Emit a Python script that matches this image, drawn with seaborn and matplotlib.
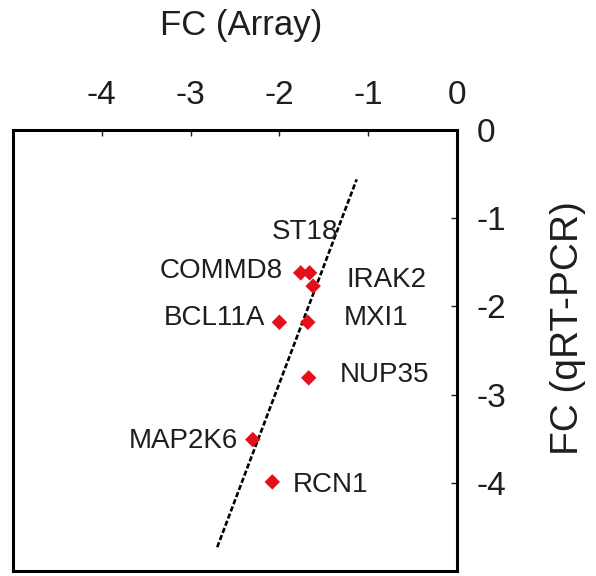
import matplotlib
matplotlib.use("Agg")
import matplotlib.pyplot as plt
import seaborn as sns
import pandas as pd

# Data
genes = ["COMMD8", "ST18", "IRAK2", "BCL11A", "MXI1", "NUP35", "MAP2K6", "RCN1"]
fc_array = [-1.76, -1.66, -1.62, -2.00, -1.68, -1.67, -2.30, -2.08]
fc_qpcr = [-1.62, -1.62, -1.77, -2.18, -2.18, -2.81, -3.51, -3.99]
fit_x = [-2.70, -1.13]
fit_y = [-4.73, -0.56]
tick_vals = [-4, -3, -2, -1, 0]
tick_labels = ["-4", "-3", "-2", "-1", "0"]

# label placement (data coords) and alignment
lab_x = [-1.96, -1.34, -1.24, -2.16, -1.28, -1.32, -2.47, -1.85]
lab_y = [-1.60, -1.16, -1.70, -2.13, -2.13, -2.78, -3.53, -4.02]
lab_ha = ["right", "right", "left", "right", "left", "left", "right", "left"]

sns.set_theme(style="white")
plt.rcParams["font.family"] = ["Liberation Sans", "DejaVu Sans"]

df = pd.DataFrame({"gene": genes, "x": fc_array, "y": fc_qpcr})
fit = pd.DataFrame({"x": fit_x, "y": fit_y})

fig = plt.figure(figsize=(5.96, 5.76), dpi=100)
ax = fig.add_axes([13 / 596, 1 - 571 / 576, 444 / 596, 441 / 576])

sns.lineplot(data=fit, x="x", y="y", ax=ax, color="black", lw=1.9,
             linestyle=(0, (2.0, 0.9)))
sns.scatterplot(data=df, x="x", y="y", ax=ax, marker="D", s=62,
                color="#e3101c", edgecolor="none", zorder=3)

txt_color = "#1e1e1e"
for lx, ly, t, ha in zip(lab_x, lab_y, genes, lab_ha):
    ax.text(lx, ly, t, ha=ha, va="center", fontsize=20, color=txt_color)

ax.set_xlim(-5, 0)
ax.set_ylim(-5, 0)
ax.set_xticks(tick_vals)
ax.set_xticklabels(tick_labels)
ax.set_yticks(tick_vals)
ax.set_yticklabels(tick_labels)
ax.xaxis.set_ticks_position("top")
ax.xaxis.set_label_position("top")
ax.yaxis.set_ticks_position("right")
ax.yaxis.set_label_position("right")
ax.tick_params(axis="both", direction="in", length=4, width=1,
               labelsize=24, colors=txt_color)
ax.tick_params(axis="x", pad=14)
ax.tick_params(axis="y", pad=14)
ax.set_xlabel("FC (Array)", fontsize=25, color=txt_color)
ax.set_ylabel("FC (qRT-PCR)", fontsize=28, color=txt_color, rotation=90)
ax.xaxis.set_label_coords((241 - 13) / 444, (571 - 35) / 441)
ax.yaxis.set_label_coords((550 - 13) / 444, (571 - 328) / 441)
for s in ax.spines.values():
    s.set_visible(True)
    s.set_color("black")
    s.set_linewidth(2.2)

fig.savefig("out.png", dpi=100)
